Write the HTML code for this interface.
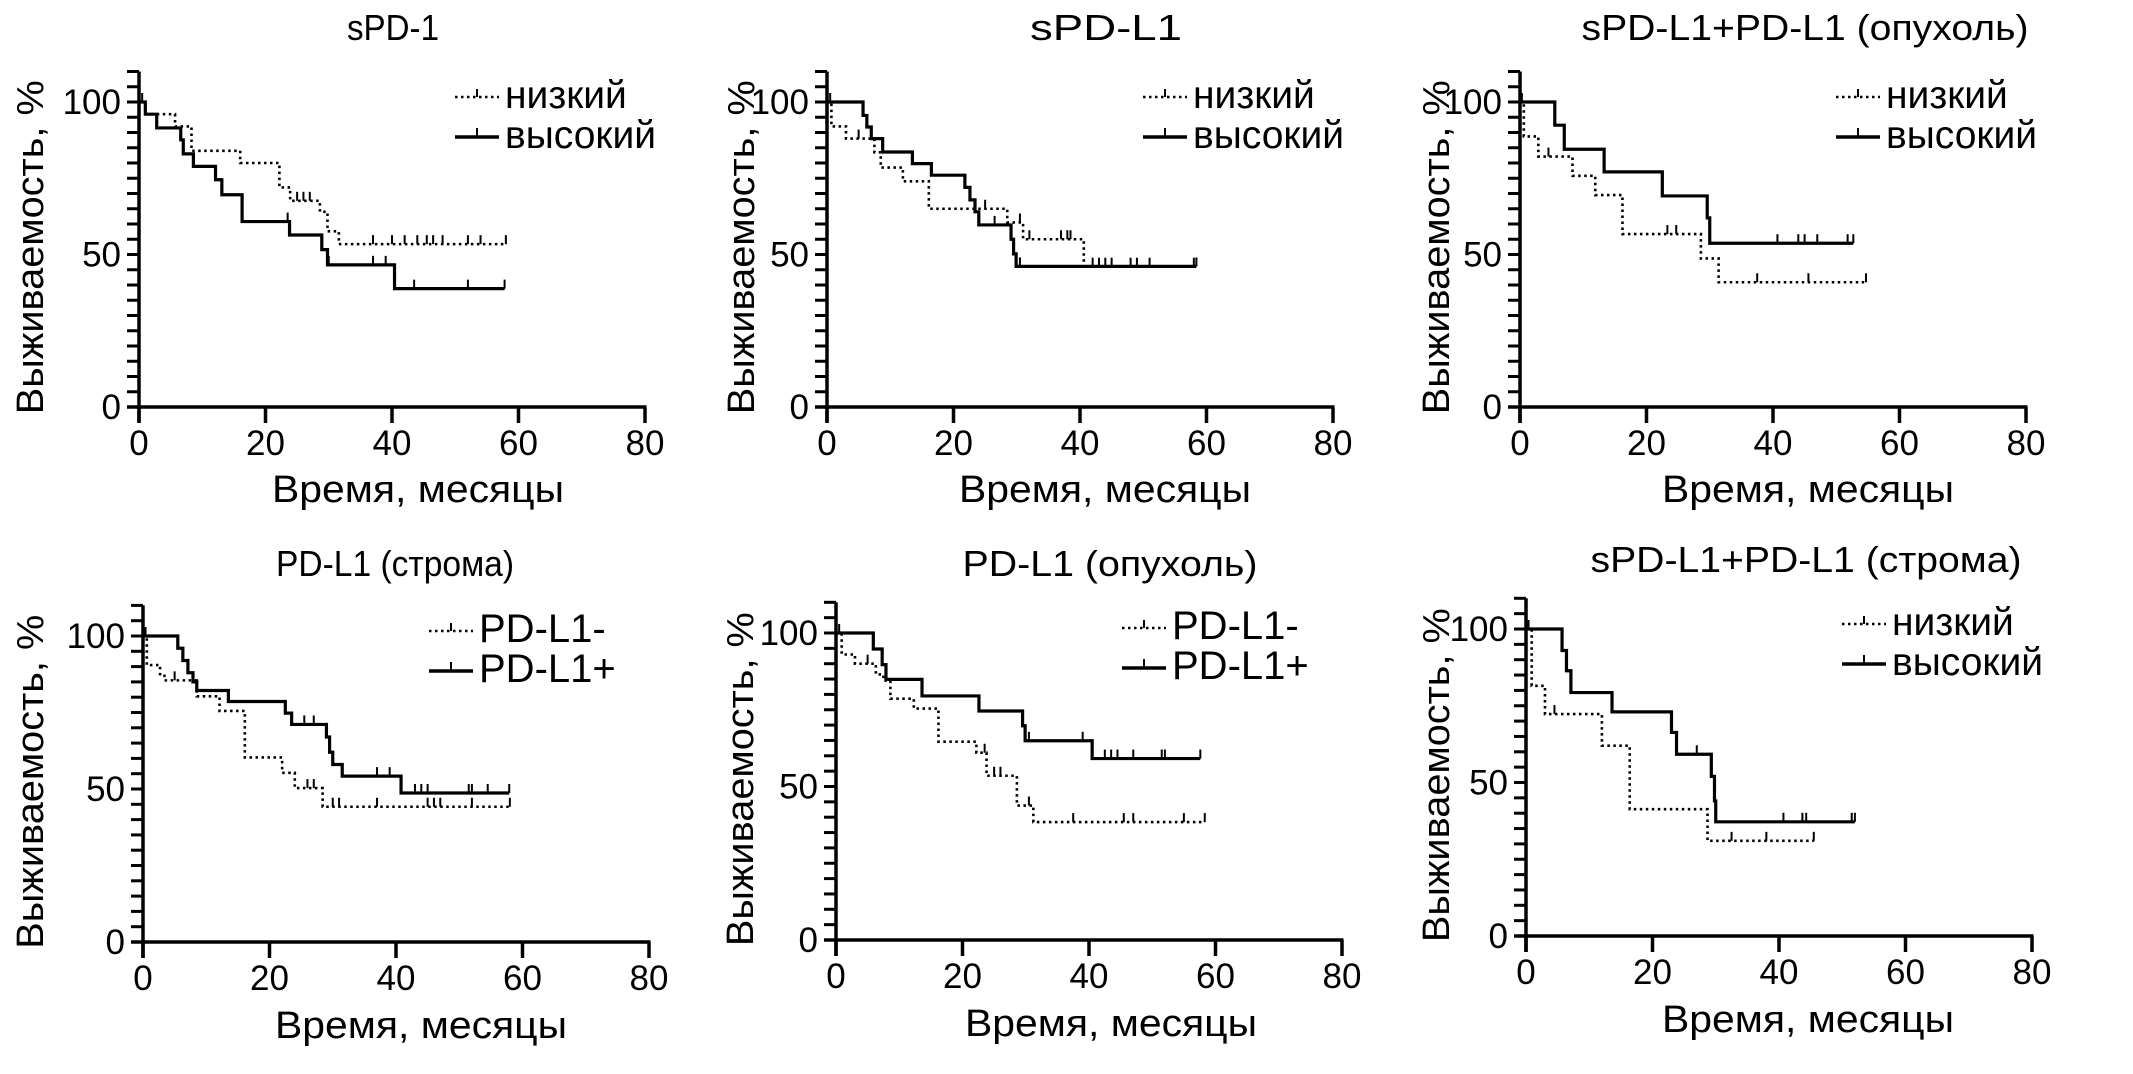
<!DOCTYPE html>
<html><head><meta charset="utf-8">
<style>
html,body{margin:0;padding:0;background:#fff;}
svg{display:block;font-family:"Liberation Sans","DejaVu Sans",sans-serif;}
</style></head>
<body>
<svg id="chart" width="2133" height="1074" viewBox="0 0 2133 1074" xmlns="http://www.w3.org/2000/svg"></svg>
<script>
// ---- data (months / survival %) ----
const xTicks = [0, 20, 40, 60, 80];
const yTickLabels = [0, 50, 100];
const titles = ["sPD-1", "sPD-L1", "sPD-L1+PD-L1 (опухоль)", "PD-L1 (строма)", "PD-L1 (опухоль)", "sPD-L1+PD-L1 (строма)"];
const legendLow = ["низкий", "низкий", "низкий", "PD-L1-", "PD-L1-", "низкий"];
const legendHigh = ["высокий", "высокий", "высокий", "PD-L1+", "PD-L1+", "высокий"];

const p1LowT = [0, 1, 5.7, 8.3, 16, 22.2, 23.9, 28.6, 29.8, 31.6];
const p1LowS = [100, 96, 92, 84, 80, 72, 67.6, 64, 57.6, 53.4];
const p1LowEnd = 58.2;
const p1LowCens = [25, 26, 27, 37, 40, 42, 44, 45.5, 46.5, 48, 52, 54, 58];
const p1HighT = [0, 1, 2.8, 6.6, 7, 8.6, 12.1, 13.1, 16.3, 23.8, 28.9, 29.8, 40.4];
const p1HighS = [100, 96, 91.5, 87.6, 83, 78.9, 74.5, 69.6, 60.8, 56.4, 51.6, 46.6, 38.8];
const p1HighEnd = 57.8;
const p1HighCens = [0.5, 23.5, 30, 37, 39, 43.5, 52, 57.8];

const p2LowT = [0, 0.7, 3, 7.5, 8.5, 12, 16.1, 28.5, 31, 40.6];
const p2LowS = [100, 92, 88, 83.5, 78.5, 74, 65, 60.5, 55, 46];
const p2LowEnd = 58;
const p2LowCens = [5, 25, 30.5, 32, 37, 38, 38.5, 42, 43, 44, 45, 48, 49, 51, 58];
const p2HighT = [0, 5.7, 6.3, 7, 8.8, 13.5, 16.5, 21.8, 22.6, 23.4, 24, 29.1, 29.5, 29.9];
const p2HighS = [100, 95.6, 91.8, 88, 83.6, 79.8, 76, 72, 67.9, 64, 59.7, 55, 50.2, 46.1];
const p2HighEnd = 58.4;
const p2HighCens = [0.5, 26.5, 30.5, 58.4];

const p3LowT = [0, 0.6, 2.9, 8.3, 11.9, 16.2, 28.6, 31.4];
const p3LowS = [100, 88.7, 82.1, 75.8, 69.5, 56.7, 48.7, 40.9];
const p3LowEnd = 54.7;
const p3LowCens = [4.5, 23.3, 24.7, 37.5, 45.6, 54.7];
const p3HighT = [0, 5.5, 7, 13.3, 22.5, 29.6, 30];
const p3HighS = [100, 92.4, 84.5, 77.1, 69.2, 62, 53.7];
const p3HighEnd = 52.7;
const p3HighCens = [0.3, 40.7, 44, 45, 47, 51.8, 52.7];

const p4LowT = [0, 0.6, 2.7, 3.6, 8.5, 12.1, 16.1, 22, 24, 28.4];
const p4LowS = [100, 90.5, 87, 85.5, 80.3, 75.5, 60.3, 55.3, 50.3, 44.2];
const p4LowEnd = 58;
const p4LowCens = [5, 26, 27, 30, 31, 37, 45, 46, 47, 52, 58];
const p4HighT = [0, 5.5, 6.3, 7.1, 7.9, 8.5, 13.5, 22.5, 23.5, 29, 29.5, 30, 31.5, 40.8];
const p4HighS = [100, 96, 92, 88, 85, 82.2, 78.6, 74.8, 71.1, 67, 62, 58, 54.2, 48.7];
const p4HighEnd = 57.9;
const p4HighCens = [0.4, 25.5, 27, 37, 39, 43, 44, 45, 51.5, 52, 54.5, 57.9];

const p5LowT = [0, 0.9, 3, 6.3, 7.5, 8.6, 12.3, 16.2, 22.2, 23.8, 28.6, 31.2];
const p5LowS = [100, 93, 90, 86.5, 84.5, 78.6, 75.4, 64.6, 61, 53.5, 43.8, 38.4];
const p5LowEnd = 58.3;
const p5LowCens = [5, 23.5, 25, 26, 30.5, 37.5, 45.5, 47, 55, 58.3];
const p5HighT = [0, 5.9, 7.3, 7.9, 13.6, 22.6, 29.5, 29.9, 40.5];
const p5HighS = [100, 94.8, 89.7, 84.9, 79.5, 74.6, 69.8, 64.9, 59.1];
const p5HighEnd = 57.6;
const p5HighCens = [0.5, 30.5, 39, 42.5, 43.5, 44.5, 47, 51.5, 52, 57.6];

const p6LowT = [0, 0.9, 3, 12, 16.4, 28.7];
const p6LowS = [100, 81.5, 72.3, 62, 41.3, 31];
const p6LowEnd = 45.5;
const p6LowCens = [4.5, 32.5, 38, 45.5];
const p6HighT = [0, 5.7, 6.4, 7.1, 13.6, 23, 23.8, 29.3, 29.8, 30];
const p6HighS = [100, 93, 86.4, 79.3, 73, 66.3, 59.2, 52, 44, 37.2];
const p6HighEnd = 52;
const p6HighCens = [0.4, 27, 40.7, 43.7, 44.3, 51.5, 52];

// ---- layout ----
const panels = [
  {x0:139, x80:645, y0:407, y100:102, yl:30, title:40, xlab:502, tc:393, tw:92, xc:418},
  {x0:827, x80:1333, y0:407, y100:102, yl:741, title:40, xlab:502, tc:1106, tw:152, xc:1105},
  {x0:1520, x80:2026, y0:407, y100:102, yl:1436, title:40, xlab:502, tc:1805, tw:447, xc:1808},
  {x0:143, x80:649, y0:942, y100:636, yl:30, title:576, xlab:1038, tc:395, tw:238, xc:421},
  {x0:836, x80:1342, y0:940, y100:633, yl:740, title:576, xlab:1036, tc:1110, tw:295, xc:1111},
  {x0:1526, x80:2032, y0:936, y100:629, yl:1436, title:572, xlab:1032, tc:1806, tw:431, xc:1808}
];
const lowT=[p1LowT,p2LowT,p3LowT,p4LowT,p5LowT,p6LowT];
const lowS=[p1LowS,p2LowS,p3LowS,p4LowS,p5LowS,p6LowS];
const lowE=[p1LowEnd,p2LowEnd,p3LowEnd,p4LowEnd,p5LowEnd,p6LowEnd];
const lowC=[p1LowCens,p2LowCens,p3LowCens,p4LowCens,p5LowCens,p6LowCens];
const highT=[p1HighT,p2HighT,p3HighT,p4HighT,p5HighT,p6HighT];
const highS=[p1HighS,p2HighS,p3HighS,p4HighS,p5HighS,p6HighS];
const highE=[p1HighEnd,p2HighEnd,p3HighEnd,p4HighEnd,p5HighEnd,p6HighEnd];
const highC=[p1HighCens,p2HighCens,p3HighCens,p4HighCens,p5HighCens,p6HighCens];

const NS="http://www.w3.org/2000/svg";
const svg=document.getElementById('chart');
function mk(tag,attrs,parent){const e=document.createElementNS(NS,tag);for(const k in attrs)e.setAttribute(k,attrs[k]);(parent||svg).appendChild(e);return e;}

function survAt(T,S,t){let v=S[0];for(let i=0;i<T.length;i++){if(T[i]<=t)v=S[i];}return v;}

panels.forEach((p,i)=>{
  const g=mk('g',{});
  
  
  const sx=t=>p.x0+(p.x80-p.x0)*t/80;
  const sy=v=>p.y0-(p.y0-p.y100)*v/100;

  const tt=mk('text',{x:p.tc,y:p.title,'text-anchor':'middle','font-size':36,textLength:p.tw,lengthAdjust:'spacingAndGlyphs',fill:'#000'},g);
  tt.textContent=titles[i];
  
  

  // axes
  const ya=mk('line',{x1:p.x0,y1:sy(110),x2:p.x0,y2:p.y0+16,stroke:'#000','stroke-width':3.5},g);
  
  
  const xa=mk('line',{x1:p.x0-12,y1:p.y0,x2:p.x80+1.5,y2:p.y0,stroke:'#000','stroke-width':3.5},g);
  
  
  for(let v=0;v<=110;v+=5){
    mk('line',{x1:p.x0-12,y1:sy(v),x2:p.x0,y2:sy(v),stroke:'#000','stroke-width':3},g);
  }
  yTickLabels.forEach(v=>{
    const t=mk('text',{x:p.x0-18,y:sy(v)+12,'text-anchor':'end','font-size':35,fill:'#000'},g);
    t.textContent=v;
    
    
  });
  xTicks.forEach(v=>{
    mk('line',{x1:sx(v),y1:p.y0,x2:sx(v),y2:p.y0+16,stroke:'#000','stroke-width':3.5},g);
    const t=mk('text',{x:sx(v),y:p.y0+48,'text-anchor':'middle','font-size':35,fill:'#000'},g);
    t.textContent=v;
    
    
  });
  const xl=mk('text',{x:p.xc,y:p.xlab,'text-anchor':'middle','font-size':38,textLength:292,lengthAdjust:'spacingAndGlyphs',fill:'#000'},g);
  xl.textContent='Время, месяцы';
  
  
  const ymid=(sy(110)+p.y0)/2+8;
  const yl=mk('text',{x:0,y:0,'text-anchor':'middle','font-size':38,textLength:334,lengthAdjust:'spacingAndGlyphs',fill:'#000',transform:`translate(${p.yl+13},${ymid}) rotate(-90)`},g);
  yl.textContent='Выживаемость, %';
  
  

  // curves
  function curve(T,S,E,C,dotted,name){
    let d=`M${sx(T[0])},${sy(S[0])}`;
    for(let k=1;k<T.length;k++){d+=` H${sx(T[k])} V${sy(S[k])}`;}
    d+=` H${sx(E)}`;
    const attrs={d:d,fill:'none',stroke:'#000','stroke-width':dotted?2.6:3.2};
    if(dotted)attrs['stroke-dasharray']='2.5 3.5';
    const path=mk('path',attrs,g);
    
    
    C.forEach(c=>{
      const v=survAt(T,S,c);
      const m=mk('line',{x1:sx(c),y1:sy(v),x2:sx(c),y2:sy(v)-9,stroke:'#000','stroke-width':2},g);
      
      
    });
  }
  curve(lowT[i],lowS[i],lowE[i],lowC[i],true,'low-series-curve');
  curve(highT[i],highS[i],highE[i],highC[i],false,'high-series-curve');

  // legend
  const pd = legendLow[i].startsWith('PD');
  const lx = pd ? p.x0+336 : p.x0+366;
  const b1 = p.y100+6, b2 = p.y100+46;
  const lg=mk('g',{},g);
  
  
  mk('line',{x1:lx-50,y1:b1-11,x2:lx-6,y2:b1-11,stroke:'#000','stroke-width':2.6,'stroke-dasharray':'2.5 3.5'},lg);
  mk('line',{x1:lx-28,y1:b1-11,x2:lx-28,y2:b1-19,stroke:'#000','stroke-width':2},lg);
  mk('line',{x1:lx-50,y1:b2-11,x2:lx-6,y2:b2-11,stroke:'#000','stroke-width':3.5},lg);
  mk('line',{x1:lx-28,y1:b2-11,x2:lx-28,y2:b2-20,stroke:'#000','stroke-width':2},lg);
  const t1=mk('text',{x:lx,y:b1,'font-size':pd?40:39,fill:'#000'},lg);
  t1.textContent=legendLow[i];
  
  
  const t2=mk('text',{x:lx,y:b2,'font-size':pd?40:39,fill:'#000'},lg);
  t2.textContent=legendHigh[i];
  
  
});
</script>
</body></html>
